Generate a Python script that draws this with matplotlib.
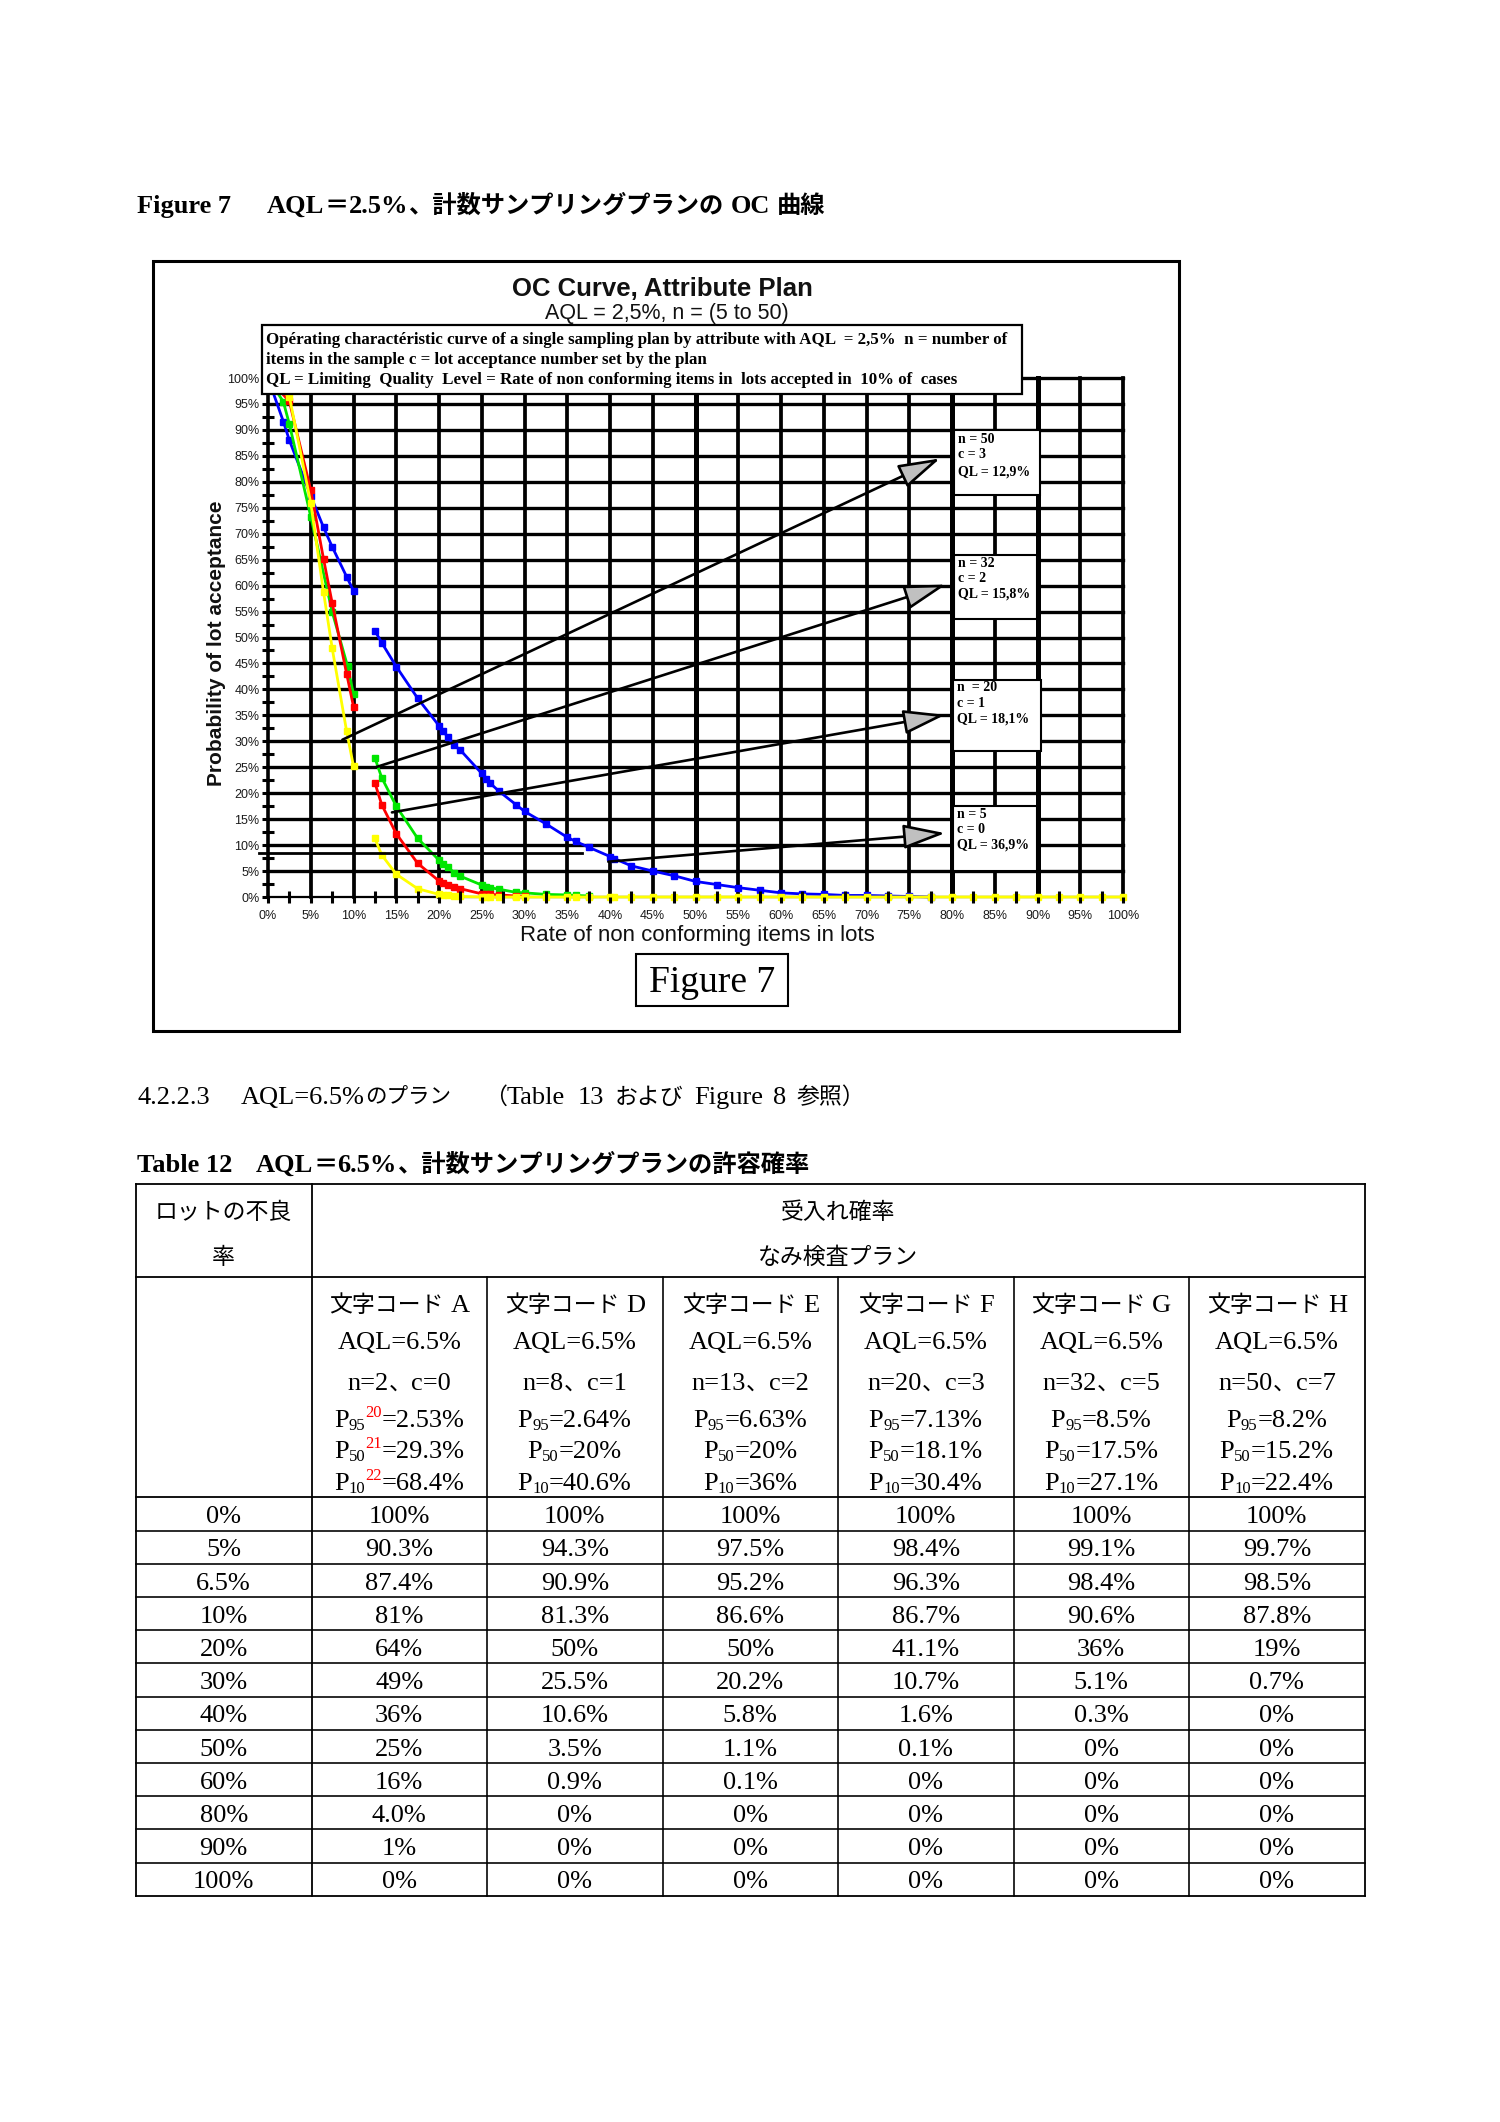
import matplotlib
matplotlib.use("Agg")
import matplotlib.pyplot as plt
from matplotlib import font_manager
from matplotlib.ft2font import FT2Font
from matplotlib.patches import Rectangle, FancyArrowPatch

plt.rcParams['font.family'] = ['Liberation Sans', 'Noto Sans CJK JP', 'DejaVu Sans']

# ======================= CHART DATA =======================
pct_ticks = [0, 5, 10, 15, 20, 25, 30, 35, 40, 45, 50, 55, 60, 65, 70, 75, 80, 85, 90, 95, 100]
pct_labels = ['0%', '5%', '10%', '15%', '20%', '25%', '30%', '35%', '40%', '45%', '50%',
              '55%', '60%', '65%', '70%', '75%', '80%', '85%', '90%', '95%', '100%']
minor_ticks = [2.5, 7.5, 12.5, 17.5, 22.5, 27.5, 32.5, 37.5, 42.5, 47.5,
               52.5, 57.5, 62.5, 67.5, 72.5, 77.5, 82.5, 87.5, 92.5, 97.5]

# n=5, c=0 (blue)
blue_x1 = [0, 1.8, 2.5, 5, 6.5, 7.5, 9.2, 10]
blue_y1 = [100, 91.6, 88.0, 77.3, 71.2, 67.5, 61.7, 59.0]
blue_x2 = [12.5, 13.3, 15, 17.5, 20, 20.5, 21, 21.8, 22.5, 25, 25.5, 26, 27, 29, 30,
           32.5, 35, 36, 37.5, 40, 40.5, 42.5, 45, 47.5, 50, 52.5, 55, 57.5, 60, 62.5,
           65, 67.5, 70, 72.5, 75, 77.5]
blue_y2 = [51.3, 49.0, 44.4, 38.3, 33.0, 31.9, 30.9, 29.2, 28.3, 23.8, 22.8, 21.9, 20.4, 17.8, 16.5,
           14.1, 11.5, 10.7, 9.6, 7.8, 7.4, 6.0, 5.0, 4.1, 3.0, 2.4, 1.8, 1.3, 0.8, 0.6,
           0.5, 0.3, 0.3, 0.2, 0.1, 0.0]
# n=20, c=1 (green)
green_x1 = [0, 1.8, 2.5, 5, 7.5, 9.3, 10]
green_y1 = [100, 95.4, 91.1, 73.3, 55.0, 44.5, 39.1]
green_x2 = [12.5, 13.3, 15, 17.5, 20, 20.5, 21, 21.8, 22.5, 25, 25.5, 26, 27, 29, 30, 32.5, 35, 36, 37.5]
green_y2 = [26.8, 23.0, 17.5, 11.3, 7.1, 6.3, 5.7, 4.7, 4.0, 2.3, 2.0, 1.8, 1.5, 0.9, 0.8, 0.5, 0.4, 0.3, 0.2]
# n=32, c=2 (red)
red_x1 = [0, 2.5, 5, 6.5, 7.5, 9.2, 10]
red_y1 = [100, 95.5, 78.4, 65.1, 56.7, 43.0, 36.7]
red_x2 = [12.5, 13.3, 15, 17.5, 20, 20.5, 21, 21.8, 22.5, 25, 25.5, 26, 27, 29, 30]
red_y2 = [22.0, 17.8, 12.2, 6.5, 3.1, 2.7, 2.4, 1.9, 1.6, 0.6, 0.5, 0.5, 0.4, 0.2, 0.1]
# n=50, c=3 (yellow)
yellow_x1 = [0, 2.5, 5, 6.5, 7.5, 9.2, 10]
yellow_y1 = [100, 96.4, 75.9, 58.7, 48.0, 31.9, 25.2]
yellow_x2 = [12.5, 13.3, 15, 17.5, 20, 20.5, 21, 21.8, 22.5, 25, 25.5, 26, 27, 29, 30,
             32.5, 35, 36, 37.5, 40, 40.5, 42.5, 45, 47.5, 50, 52.5, 55, 57.5, 60, 62.5,
             65, 67.5, 70, 72.5, 75, 77.5, 80, 82.5, 85, 87.5, 90, 92.5, 95, 97.5, 100]
yellow_y2 = [11.3, 8.1, 4.4, 1.6, 0.5, 0.4, 0.3, 0.2, 0.1, 0, 0, 0, 0, 0, 0,
             0, 0, 0, 0, 0, 0, 0, 0, 0, 0, 0, 0, 0, 0, 0,
             0, 0, 0, 0, 0, 0, 0, 0, 0, 0, 0, 0, 0, 0, 0]

# annotation arrows (start point -> tip, in chart %)
arrow_start = [(8.7, 30.3), (12.4, 24.9), (14.5, 16.3), (39.8, 6.8)]
arrow_tip = [(78.6, 84.5), (79.3, 60.2), (79.2, 35.1), (79.2, 12.3)]
guide_line_x = [-1.0, 36.7]
guide_line_y = [8.4, 8.4]
ann_lines = [("n = 50", "c = 3", "QL = 12,9%"),
             ("n = 32", "c = 2", "QL = 15,8%"),
             ("n  = 20", "c = 1", "QL = 18,1%"),
             ("n = 5", "c = 0", "QL = 36,9%")]

chart_title = "OC Curve, Attribute Plan"
chart_subtitle = "AQL = 2,5%, n = (5 to 50)"
desc_lines = ["Opérating charactéristic curve of a single sampling plan by attribute with AQL  = 2,5%  n = number of",
              "items in the sample c = lot acceptance number set by the plan",
              "QL = Limiting  Quality  Level = Rate of non conforming items in  lots accepted in  10% of  cases"]
x_label = "Rate of non conforming items in lots"
y_label = "Probability of lot acceptance"

# ======================= TABLE DATA =======================
row_labels = ['0%', '5%', '6.5%', '10%', '20%', '30%', '40%', '50%', '60%', '80%', '90%', '100%']
codes = ['文字コード A', '文字コード D', '文字コード E', '文字コード F', '文字コード G', '文字コード H']
aql = ['AQL=6.5%'] * 6
plans = ['n=2、c=0', 'n=8、c=1', 'n=13、c=2', 'n=20、c=3', 'n=32、c=5', 'n=50、c=7']
p95 = ['=2.53%', '=2.64%', '=6.63%', '=7.13%', '=8.5%', '=8.2%']
p50 = ['=29.3%', '=20%', '=20%', '=18.1%', '=17.5%', '=15.2%']
p10 = ['=68.4%', '=40.6%', '=36%', '=30.4%', '=27.1%', '=22.4%']
notes = [['20', '21', '22'], None, None, None, None, None]
col_A = ['100%', '90.3%', '87.4%', '81%', '64%', '49%', '36%', '25%', '16%', '4.0%', '1%', '0%']
col_D = ['100%', '94.3%', '90.9%', '81.3%', '50%', '25.5%', '10.6%', '3.5%', '0.9%', '0%', '0%', '0%']
col_E = ['100%', '97.5%', '95.2%', '86.6%', '50%', '20.2%', '5.8%', '1.1%', '0.1%', '0%', '0%', '0%']
col_F = ['100%', '98.4%', '96.3%', '86.7%', '41.1%', '10.7%', '1.6%', '0.1%', '0%', '0%', '0%', '0%']
col_G = ['100%', '99.1%', '98.4%', '90.6%', '36%', '5.1%', '0.3%', '0%', '0%', '0%', '0%', '0%']
col_H = ['100%', '99.7%', '98.5%', '87.8%', '19%', '0.7%', '0%', '0%', '0%', '0%', '0%', '0%']
table_cols = [col_A, col_D, col_E, col_F, col_G, col_H]

caption_fig_a = "Figure 7"
caption_fig_b = "AQL＝2.5%、計数サンプリングプランの OC 曲線"
section_a = "4.2.2.3"
section_b = "AQL=6.5%のプラン"
section_c = "（Table 13 および Figure 8 参照）"
caption_tab_a = "Table 12"
caption_tab_b = "AQL＝6.5%、計数サンプリングプランの許容確率"
head_left = ["ロットの不良", "率"]
head_top = ["受入れ確率", "なみ検査プラン"]

# ======================= FIGURE =======================
W, H = 1500, 2122
fig = plt.figure(figsize=(W / 100, H / 100), dpi=100)
fig.patch.set_facecolor('white')

X0, X1, Y100, Y0 = 268, 1123, 378, 897
ax = fig.add_axes([X0 / W, 1 - Y0 / H, (X1 - X0) / W, (Y0 - Y100) / H], zorder=1)
page = fig.add_axes([0, 0, 1, 1], zorder=5)
page.set_xlim(0, W)
page.set_ylim(H, 0)
page.axis('off')
page.patch.set_visible(False)

# ---------- chart ----------
ax.set_xlim(0, 100)
ax.set_ylim(0, 100)
ax.patch.set_facecolor('white')
ax.spines['top'].set_visible(False)
ax.spines['right'].set_visible(False)
ax.spines['left'].set_linewidth(2.6)
ax.spines['bottom'].set_linewidth(1.6)
for v in pct_ticks[1:]:
    ax.axvline(v, color='black', lw=(3.6 if v in (50, 80, 90) else 2.7), zorder=1, clip_on=False)
    ax.axhline(v, color='black', lw=2.4, zorder=1, clip_on=False)

series = [(blue_x1, blue_y1, '#0000ff'), (blue_x2, blue_y2, '#0000ff'),
          (green_x1, green_y1, '#00e600'), (green_x2, green_y2, '#00e600'),
          (red_x1, red_y1, '#ff0000'), (red_x2, red_y2, '#ff0000'),
          (yellow_x1, yellow_y1, '#ffff00'), (yellow_x2, yellow_y2, '#ffff00')]
for xs, ys, c in series:
    ax.plot(xs, ys, color=c, lw=2.0, marker='s', ms=4.6, mfc=c, mec=c, clip_on=False, zorder=3)

ax.set_xticks(pct_ticks)
ax.set_xticklabels(pct_labels)
ax.set_yticks(pct_ticks)
ax.set_yticklabels(pct_labels)
ax.set_xticks(minor_ticks, minor=True)
ax.set_yticks(minor_ticks, minor=True)
ax.tick_params(which='major', direction='out', length=4.5, width=2.2, labelsize=9,
               labelcolor='#1a1a1a', color='black')
ax.tick_params(axis='x', which='major', pad=5)
ax.tick_params(axis='y', which='major', pad=1.5)
ax.tick_params(which='minor', direction='inout', length=8, width=2.2, color='black')
for lab in ax.get_xticklabels() + ax.get_yticklabels():
    lab.set_family('Liberation Sans')
ax.xaxis.set_zorder(4.5)
ax.yaxis.set_zorder(4.5)

ax.plot(guide_line_x, guide_line_y, color='black', lw=2.0, clip_on=False, zorder=4)
for (sx, sy), (tx, ty) in zip(arrow_start, arrow_tip):
    ax.add_patch(FancyArrowPatch((sx, sy), (tx, ty),
                                 arrowstyle='-|>,head_length=1.3,head_width=0.38',
                                 mutation_scale=20, lw=1.9, ec='black', fc='#c0c0c0',
                                 shrinkA=0, shrinkB=0, zorder=4, clip_on=False))

# ---------- text helpers ----------
_fonts = {}


def _ft(family, weight):
    key = (family, weight)
    if key not in _fonts:
        path = font_manager.findfont(font_manager.FontProperties(family=family, weight=weight))
        _fonts[key] = FT2Font(path)
    return _fonts[key]


def adv_width(text, family, weight, size):
    f = _ft(family, weight)
    f.set_size(size, 100)
    w = 0.0
    for ch in text:
        g = f.load_char(ord(ch))
        w += g.linearHoriAdvance / 65536.0
    return w


def draw_runs(x, y, runs, ha='left', zorder=6):
    widths = []
    for r in runs:
        if r.get('gap') is not None:
            widths.append(r['gap'])
        else:
            widths.append(adv_width(r['text'], r['family'], r['weight'], r['size']))
    total = sum(widths)
    px = x - total / 2 if ha == 'center' else x
    for r, w in zip(runs, widths):
        if r.get('gap') is None:
            page.text(px, y + r.get('dy', 0), r['text'], fontsize=r['size'], family=r['family'],
                      weight=r['weight'], color=r.get('color', 'black'), ha='left', va='baseline',
                      zorder=zorder)
        px += w
    return total


def rich(x, y, s, lsize, csize, weight='normal', ha='left', lfam='Liberation Serif',
         cfam='Noto Sans CJK JP', color='black', space=0.25):
    toks = []
    cur, kind = '', None
    for ch in s:
        k = 'sp' if ch == ' ' else ('cjk' if ord(ch) >= 0x2E80 else 'lat')
        if k != kind and cur:
            toks.append((kind, cur))
            cur = ''
        kind = k
        cur += ch
    if cur:
        toks.append((kind, cur))
    runs = []
    for k, t in toks:
        if k == 'sp':
            runs.append({'gap': len(t) * space * lsize * 100 / 72})
        elif k == 'cjk':
            runs.append({'text': t, 'family': cfam, 'weight': weight, 'size': csize, 'color': color})
        else:
            runs.append({'text': t, 'family': lfam, 'weight': weight, 'size': lsize, 'color': color})
    return draw_runs(x, y, runs, ha=ha)


# ---------- figure frame & chart texts ----------
page.add_patch(Rectangle((153, 261), 1026, 770, fill=False, ec='black', lw=2.2, zorder=2))
page.text(662, 289, chart_title, ha='center', va='center', fontsize=18.5, weight='bold',
          family='Liberation Sans', color='#111111', zorder=2)
page.text(667, 313, chart_subtitle, ha='center', va='center', fontsize=15.5,
          family='Liberation Sans', color='#111111', zorder=2)
page.add_patch(Rectangle((262, 325), 760, 69, fc='white', ec='black', lw=1.6, zorder=3))
w1 = adv_width(desc_lines[0], 'Liberation Serif', 'bold', 10)
desc_size = 10 * 742 / w1
for line, by in zip(desc_lines, [344, 364, 384]):
    page.text(266, by, line, fontsize=desc_size, family='Liberation Serif', weight='bold',
              ha='left', va='baseline', zorder=4)

page.text(217, 643, y_label, rotation=90, ha='center', va='center', fontsize=15,
          weight='bold', family='Liberation Sans', color='#111111')
page.text(697, 935, x_label, ha='center', va='center', fontsize=16,
          family='Liberation Sans', color='#111111')
page.add_patch(Rectangle((636, 954), 152, 52, fill=False, ec='black', lw=1.5))
page.text(712, 992, "Figure 7", ha='center', va='baseline', fontsize=27, family='Liberation Serif')

ann_boxes = [(954, 430, 86, 65), (954, 555, 83, 64), (953, 680, 88, 71), (953, 806, 84, 65)]
ann_base = [(443, 458, 476), (567, 582, 598), (691, 707, 723), (818, 833, 849)]
for (bx, by, bw, bh), lines, bases in zip(ann_boxes, ann_lines, ann_base):
    page.add_patch(Rectangle((bx, by), bw, bh, fc='white', ec='black', lw=1.5, zorder=3))
    for t, yb in zip(lines, bases):
        page.text(bx + 4, yb, t, fontsize=10, family='Liberation Serif', weight='bold',
                  ha='left', va='baseline', zorder=4)

# ---------- document texts ----------
draw_runs(137, 213, [{'text': caption_fig_a, 'family': 'Liberation Serif', 'weight': 'bold', 'size': 19}])
rich(267, 213, caption_fig_b, 19, 17.5, weight='bold')
draw_runs(137, 1104, [{'text': section_a, 'family': 'Liberation Serif', 'weight': 'normal', 'size': 19}])
rich(241, 1104, section_b, 19, 15.5)
rich(484, 1104, section_c, 19, 16.5, space=0.4)
draw_runs(137, 1172, [{'text': caption_tab_a, 'family': 'Liberation Serif', 'weight': 'bold', 'size': 19}])
rich(256, 1172, caption_tab_b, 19, 17.5, weight='bold')

# ---------- table ----------
TL, TR, TT, TB = 136, 1364.5, 1184, 1895.7
CW = 175.5
H1, H2 = 1277, 1497.3
RH = 33.2
LW = 1.3
page.plot([TL, TR], [TT, TT], color='black', lw=LW)
page.plot([TL, TR], [TB, TB], color='black', lw=LW)
page.plot([TL, TR], [H1, H1], color='black', lw=LW)
page.plot([TL, TR], [H2, H2], color='black', lw=LW)
for i in range(1, len(row_labels)):
    yy = H2 + RH * i
    page.plot([TL, TR], [yy, yy], color='black', lw=LW * 0.9)
page.plot([TL, TL], [TT, TB], color='black', lw=LW)
page.plot([TR, TR], [TT, TB], color='black', lw=LW)
page.plot([TL + CW, TL + CW], [TT, TB], color='black', lw=LW)
for j in range(2, 7):
    xx = TL + CW * j
    page.plot([xx, xx], [H1, TB], color='black', lw=LW * 0.9)

c0 = TL + CW / 2
rich(c0, 1219, head_left[0], 19, 16.5, ha='center')
rich(c0, 1264, head_left[1], 19, 16.5, ha='center')
ctop = (TL + CW + TR) / 2
rich(ctop, 1219, head_top[0], 19, 16.5, ha='center')
rich(ctop, 1264, head_top[1], 19, 16.5, ha='center')

SUB = 12
for j in range(6):
    cx = TL + CW * (j + 1) + CW / 2
    rich(cx, 1312, codes[j], 19, 16.5, ha='center')
    rich(cx, 1349, aql[j], 19, 16.5, ha='center')
    rich(cx, 1390, plans[j], 19, 16.5, ha='center')
    for k, (sub, vals, by) in enumerate([('95', p95, 1427), ('50', p50, 1458), ('10', p10, 1490)]):
        runs = [{'text': 'P', 'family': 'Liberation Serif', 'weight': 'normal', 'size': 19},
                {'text': sub, 'family': 'Liberation Serif', 'weight': 'normal', 'size': SUB, 'dy': 3}]
        if notes[j] is not None:
            runs.append({'text': notes[j][k], 'family': 'Liberation Serif', 'weight': 'normal',
                         'size': SUB, 'dy': -10, 'color': '#ff0000'})
        runs.append({'text': vals[j], 'family': 'Liberation Serif', 'weight': 'normal', 'size': 19})
        draw_runs(cx, by, runs, ha='center')

for i, lab in enumerate(row_labels):
    by = H2 + RH * i + 26
    rich(c0, by, lab, 19, 16.5, ha='center')
    for j in range(6):
        cx = TL + CW * (j + 1) + CW / 2
        rich(cx, by, table_cols[j][i], 19, 16.5, ha='center')

fig.savefig('out.png', dpi=100, facecolor='white')
